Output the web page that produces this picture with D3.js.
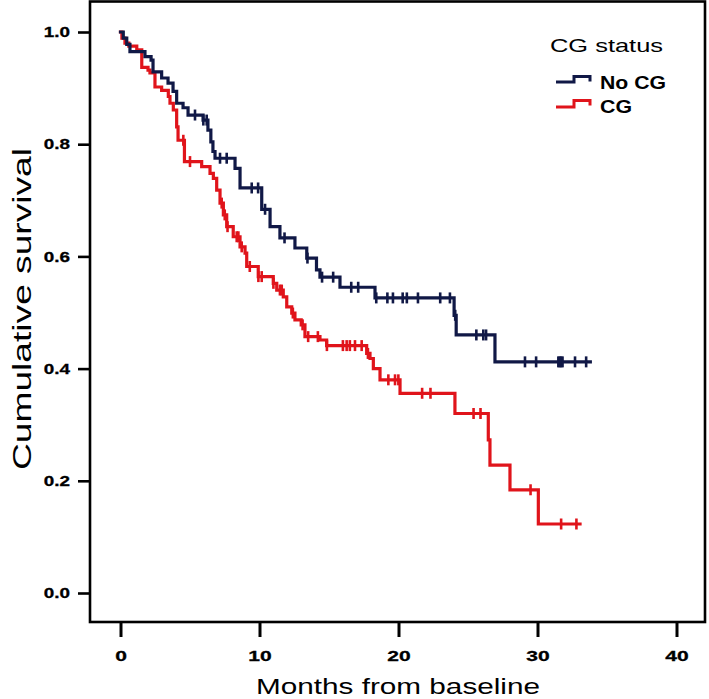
<!DOCTYPE html>
<html>
<head>
<meta charset="utf-8">
<script src="https://cdn.jsdelivr.net/npm/d3@7"></script>
<style>
  html, body { margin: 0; padding: 0; background: #fff; }
  svg { display: block; }
</style>
</head>
<body>
<svg id="chart" width="709" height="699"></svg>
<script>
// ---------- data ----------
const xTicks = [0, 10, 20, 30, 40];
const yTicks = [0.0, 0.2, 0.4, 0.6, 0.8, 1.0];
const groups = ["No CG", "CG"];

// No CG: event times (months) and survival after each step
const noCgTimes = [0, 0.2, 0.45, 0.68, 1.76, 2.2, 2.34, 2.96, 3.42, 3.78, 4.04, 4.5, 4.86, 5.94, 6.29, 6.5, 6.65, 6.8, 8.24, 8.6, 10.16, 10.76, 11.47, 12.55, 13.4, 14.1, 14.35, 15.79, 18.31, 24.0, 24.15, 26.94];
const noCgSurv  = [1.0, 0.989, 0.978, 0.965, 0.956, 0.95, 0.929, 0.918, 0.909, 0.894, 0.873, 0.865, 0.852, 0.843, 0.825, 0.804, 0.787, 0.775, 0.757, 0.722, 0.684, 0.653, 0.633, 0.615, 0.597, 0.576, 0.563, 0.545, 0.526, 0.495, 0.46, 0.412];
const noCgEnd = 33.8;
const noCgCensor = [5.36, 5.96, 6.2, 7.16, 7.64, 9.44, 9.9, 10.4, 11.8, 13.45, 14.5, 15.3, 16.6, 17.1, 18.4, 19.2, 19.6, 20.3, 20.6, 21.4, 23.0, 23.7, 24.08, 25.6, 26.1, 26.3, 29.1, 29.9, 31.5, 31.6, 31.7, 31.8, 32.7, 33.5];

// CG
const cgTimes = [0, 0.1, 0.32, 0.6, 1.17, 1.53, 1.98, 2.12, 2.48, 2.96, 3.44, 3.56, 3.8, 4.04, 4.14, 4.6, 5.84, 6.44, 6.68, 6.92, 7.16, 7.4, 7.64, 8.11, 8.6, 8.96, 9.08, 9.91, 10.99, 11.24, 11.71, 11.96, 12.32, 12.55, 13.0, 13.27, 14.35, 14.83, 17.71, 17.95, 18.19, 18.67, 20.11, 24.06, 26.46, 26.58, 28.02, 30.06];
const cgSurv  = [1.0, 0.989, 0.98, 0.975, 0.968, 0.937, 0.932, 0.927, 0.902, 0.896, 0.885, 0.873, 0.861, 0.831, 0.807, 0.769, 0.76, 0.748, 0.739, 0.718, 0.695, 0.674, 0.653, 0.635, 0.617, 0.606, 0.582, 0.564, 0.552, 0.54, 0.528, 0.51, 0.499, 0.487, 0.478, 0.457, 0.451, 0.441, 0.427, 0.418, 0.40, 0.38, 0.356, 0.32, 0.273, 0.228, 0.184, 0.123];
const cgEnd = 33.06;
const cgCensor = [4.52, 5.0, 7.28, 7.5, 7.7, 8.36, 8.48, 8.72, 9.3, 9.92, 10.16, 11.0, 11.47, 11.6, 12.4, 13.1, 13.5, 14.2, 14.85, 16.0, 16.27, 16.5, 16.87, 17.35, 17.8, 19.27, 19.75, 19.99, 21.7, 22.3, 25.4, 25.9, 29.5, 31.7, 32.8];

// ---------- drawing ----------
const svg = d3.select("#chart");
const colors = { "No CG": "#101846", "CG": "#e0141b" };

const x = d3.scaleLinear().domain([0, 40]).range([120.5, 676.5]);
const y = d3.scaleLinear().domain([0, 1]).range([593, 32]);

const frame = { left: 90, right: 705, top: 1.5, bottom: 622 };
const fontFam = "Liberation Sans, Arial, sans-serif";

// axes
const yAxis = d3.axisLeft(y).tickValues(yTicks).tickFormat(d3.format(".1f")).tickSize(12).tickPadding(8);
const gy = svg.append("g").attr("transform", `translate(${frame.left},0)`).call(yAxis);
gy.select(".domain").remove();
gy.selectAll(".tick line").attr("stroke", "#000").attr("stroke-width", 2.6);
gy.selectAll(".tick text")
  .attr("font-family", fontFam)
  .attr("font-weight", "bold").attr("font-size", 14.5).attr("fill", "#000")
  .attr("x", -20)
  .attr("stroke", "#000").attr("stroke-width", 0.3)
  .each(function () { const w = this.getComputedTextLength(); d3.select(this).attr("textLength", w * 1.3).attr("lengthAdjust", "spacingAndGlyphs"); });

const xAxis = d3.axisBottom(x).tickValues(xTicks).tickFormat(d3.format("d")).tickSize(15).tickPadding(13);
const gx = svg.append("g").attr("transform", `translate(0,${frame.bottom})`).call(xAxis);
gx.select(".domain").remove();
gx.selectAll(".tick line").attr("stroke", "#000").attr("stroke-width", 3);
gx.selectAll(".tick text")
  .attr("font-family", fontFam)
  .attr("font-weight", "bold").attr("font-size", 15).attr("fill", "#000")
  .attr("stroke", "#000").attr("stroke-width", 0.3)
  .each(function () { const w = this.getComputedTextLength(); d3.select(this).attr("textLength", w * 1.4).attr("lengthAdjust", "spacingAndGlyphs"); });

// frame
svg.append("rect")
  .attr("x", frame.left).attr("y", frame.top)
  .attr("width", frame.right - frame.left).attr("height", frame.bottom - frame.top)
  .attr("fill", "none").attr("stroke", "#000").attr("stroke-width", 2.6);

// axis titles
svg.append("text")
  .attr("x", 398).attr("y", 694)
  .attr("text-anchor", "middle")
  .attr("font-family", fontFam)
  .attr("font-size", 22)
  .attr("textLength", 284).attr("lengthAdjust", "spacingAndGlyphs")
  .text("Months from baseline");

svg.append("text")
  .attr("transform", "translate(31,309) rotate(-90)")
  .attr("text-anchor", "middle")
  .attr("font-family", fontFam)
  .attr("font-size", 26)
  .attr("textLength", 322).attr("lengthAdjust", "spacingAndGlyphs")
  .text("Cumulative survival");

// KM curves
function survAt(times, surv, t) {
  let s = surv[0];
  for (let i = 0; i < times.length; i++) { if (times[i] <= t) s = surv[i]; }
  return s;
}
const line = d3.line().x(d => x(d[0])).y(d => y(d[1])).curve(d3.curveStepAfter);

const series = [
  { name: "No CG", times: noCgTimes, surv: noCgSurv, end: noCgEnd, censor: noCgCensor },
  { name: "CG", times: cgTimes, surv: cgSurv, end: cgEnd, censor: cgCensor }
];

series.slice().reverse().forEach(s => {
  const pts = s.times.map((t, i) => [t, s.surv[i]]);
  pts.push([s.end, s.surv[s.surv.length - 1]]);
  const g = svg.append("g");
  g.append("path").datum(pts)
    .attr("d", line).attr("fill", "none")
    .attr("stroke", colors[s.name]).attr("stroke-width", 3.2)
    .attr("stroke-linejoin", "miter").attr("stroke-linecap", "square");
  g.selectAll("line.c").data(s.censor).enter().append("line")
    .attr("x1", d => x(d)).attr("x2", d => x(d))
    .attr("y1", d => y(survAt(s.times, s.surv, d)) - 5.5)
    .attr("y2", d => y(survAt(s.times, s.surv, d)) + 5.5)
    .attr("stroke", colors[s.name]).attr("stroke-width", 2.6);
});

// legend
const leg = svg.append("g");
leg.append("text").attr("x", 550).attr("y", 52)
  .attr("font-family", fontFam).attr("font-size", 19)
  .attr("textLength", 113).attr("lengthAdjust", "spacingAndGlyphs")
  .text("CG status");
const legRows = [
  { name: groups[0], yLow: 82, yHigh: 76.5, ty: 88.5, w: 66 },
  { name: groups[1], yLow: 107, yHigh: 100.5, ty: 112.5, w: 32 }
];
legRows.forEach(r => {
  leg.append("path")
    .attr("d", `M556,${r.yLow} H574 V${r.yHigh} H590 V${r.yHigh + 5}`)
    .attr("fill", "none").attr("stroke", colors[r.name]).attr("stroke-width", 3);
  leg.append("text").attr("x", 600).attr("y", r.ty)
    .attr("font-family", fontFam).attr("font-weight", "bold").attr("font-size", 18)
    .attr("textLength", r.w).attr("lengthAdjust", "spacingAndGlyphs")
    .text(r.name);
});
</script>
</body>
</html>
